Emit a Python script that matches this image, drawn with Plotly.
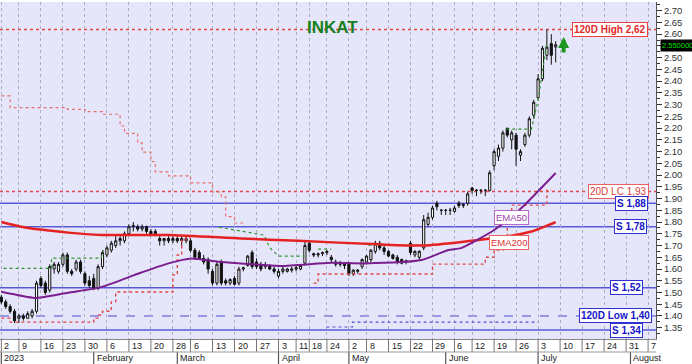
import plotly.graph_objects as go

# ---------------- data ----------------
day_idx = list(range(127))  # trading days 2023-01-02 .. 2023-07-07
opens = [1.48,1.46,1.44,1.42,1.39,1.40,1.39,1.40,1.42,1.56,1.54,1.51,1.60,1.59,1.62,1.66,1.59,1.60,1.63,1.58,
         1.55,1.56,1.52,1.61,1.66,1.68,1.70,1.72,1.72,1.75,1.78,1.78,1.77,1.78,1.76,1.76,1.73,1.72,1.73,1.72,
         1.73,1.72,1.73,1.72,1.68,1.67,1.645,1.64,1.59,1.54,1.63,1.55,1.54,1.56,1.54,1.60,1.615,1.67,1.63,1.62,
         1.61,1.615,1.60,1.57,1.59,1.59,1.595,1.60,1.60,1.625,1.71,1.665,1.66,1.665,1.67,1.65,1.63,1.625,1.62,1.625,
         1.58,1.59,1.61,1.63,1.64,1.675,1.71,1.69,1.675,1.66,1.65,1.64,1.63,1.71,1.66,1.65,1.69,1.79,1.82,1.88,
         1.85,1.85,1.85,1.845,1.88,1.87,1.88,1.945,1.935,1.935,1.935,1.935,2.04,2.08,2.115,2.20,2.15,2.17,2.085,2.13,
         2.17,2.255,2.33,2.41,2.51,2.56,2.545]
highs = [1.49,1.47,1.45,1.43,1.41,1.41,1.42,1.43,1.55,1.57,1.55,1.62,1.63,1.63,1.67,1.67,1.60,1.64,1.64,1.59,
         1.57,1.58,1.62,1.68,1.70,1.72,1.74,1.74,1.76,1.79,1.80,1.79,1.79,1.785,1.77,1.77,1.74,1.73,1.74,1.74,
         1.74,1.74,1.74,1.73,1.69,1.68,1.66,1.65,1.60,1.63,1.64,1.56,1.56,1.57,1.61,1.61,1.66,1.68,1.645,1.63,
         1.63,1.62,1.61,1.60,1.61,1.605,1.61,1.615,1.62,1.72,1.72,1.67,1.67,1.675,1.68,1.66,1.64,1.635,1.63,1.63,
         1.60,1.60,1.645,1.66,1.685,1.72,1.72,1.70,1.68,1.665,1.66,1.645,1.64,1.72,1.68,1.68,1.83,1.84,1.87,1.89,
         1.855,1.855,1.86,1.87,1.89,1.88,1.93,1.95,1.94,1.94,1.94,2.02,2.11,2.13,2.19,2.20,2.19,2.18,2.11,2.18,
         2.25,2.32,2.43,2.55,2.62,2.60,2.57]
lows = [1.45,1.43,1.41,1.37,1.37,1.38,1.39,1.39,1.41,1.52,1.49,1.50,1.58,1.58,1.61,1.58,1.57,1.59,1.58,1.53,
        1.52,1.51,1.51,1.60,1.65,1.67,1.69,1.70,1.71,1.74,1.76,1.76,1.76,1.75,1.74,1.74,1.70,1.70,1.71,1.71,
        1.71,1.70,1.71,1.67,1.64,1.64,1.62,1.58,1.53,1.53,1.53,1.53,1.53,1.53,1.53,1.59,1.61,1.60,1.60,1.59,
        1.60,1.595,1.58,1.56,1.58,1.585,1.585,1.59,1.595,1.62,1.67,1.65,1.65,1.655,1.66,1.63,1.61,1.61,1.60,1.57,
        1.57,1.58,1.60,1.62,1.63,1.665,1.68,1.66,1.65,1.64,1.62,1.62,1.62,1.66,1.65,1.64,1.68,1.78,1.81,1.85,
        1.83,1.83,1.83,1.84,1.86,1.86,1.87,1.92,1.91,1.92,1.91,1.93,2.02,2.06,2.10,2.16,2.11,2.04,2.06,2.12,
        2.16,2.24,2.32,2.40,2.49,2.47,2.48]
closes = [1.46,1.44,1.42,1.38,1.40,1.39,1.41,1.42,1.54,1.53,1.50,1.61,1.62,1.62,1.66,1.59,1.58,1.63,1.59,1.54,
          1.53,1.52,1.61,1.67,1.69,1.71,1.72,1.73,1.75,1.78,1.785,1.77,1.78,1.76,1.75,1.745,1.72,1.73,1.72,1.73,
          1.72,1.73,1.72,1.68,1.65,1.645,1.63,1.60,1.54,1.62,1.54,1.54,1.555,1.535,1.60,1.605,1.655,1.61,1.61,1.60,
          1.615,1.60,1.59,1.59,1.60,1.60,1.60,1.605,1.615,1.70,1.68,1.66,1.665,1.67,1.675,1.64,1.62,1.62,1.615,1.58,
          1.595,1.595,1.64,1.655,1.68,1.71,1.69,1.675,1.655,1.645,1.63,1.625,1.635,1.67,1.675,1.675,1.81,1.82,1.86,1.865,
          1.85,1.85,1.85,1.86,1.87,1.875,1.92,1.935,1.935,1.935,1.935,2.01,2.10,2.115,2.18,2.17,2.18,2.11,2.10,2.17,
          2.24,2.31,2.41,2.54,2.545,2.51,2.555]

week_ticks = [0,4,9,14,19,24,29,34,39,43,48,53,58,63,67,70,74,79,83,88,93,98,103,107,112,117,122,127,132,137,142,147]
week_labels = ["2","9","16","23","30","6","13","20","28","6","13","20","27","3","11","18","24","2","8","15","22",
               "29","6","12","19","26","3","10","17","24","31","7"]
month_ticks = [0,21,40,63,79,101,122,143]
month_labels = ["2023","February","March","April","May","June","July","August"]

price_ticks = [1.35,1.40,1.45,1.50,1.55,1.60,1.65,1.70,1.75,1.80,1.85,1.90,1.95,2.00,2.05,2.10,2.15,2.20,
               2.25,2.30,2.35,2.40,2.45,2.50,2.55,2.60,2.65,2.70]

ema50_x = [0,7.5,9.8,15.2,22.7,30.2,38,43.2,49.3,54.5,63.6,75,82.5,95.5,101.6,104.5,112,118.2,126]
ema50_y = [1.503,1.477,1.481,1.499,1.523,1.574,1.624,1.645,1.631,1.624,1.613,1.627,1.624,1.638,1.681,1.689,1.766,1.86,2.009]
ema200_x = [0,4.5,15.2,22.7,38,54.5,67.5,85.7,96.1,106.8,113.6,120.5,126]
ema200_y = [1.80,1.78,1.755,1.745,1.745,1.73,1.72,1.705,1.70,1.72,1.735,1.76,1.80]

upper_x = [0,2,15,19,23,27,28,31,32,34,35,38,43,48,50,51,53,55]
upper_y = [2.337,2.287,2.28,2.27,2.259,2.209,2.178,2.137,2.098,2.057,2.014,1.997,1.967,1.928,1.907,1.823,1.796,1.796]
lower1_x = [0,2,21,22,23,25,26,39,40,41,42,43]
lower1_y = [1.391,1.374,1.391,1.404,1.42,1.46,1.502,1.575,1.66,1.723,1.732,1.732]
lower2_x = [71,72,98,110,112,114,115,116,124,125]
lower2_y = [1.54,1.579,1.621,1.65,1.681,1.723,1.83,1.872,1.936,1.936]

stop_segments = [
    ([0.5,11.4,11.4,22.7,23.2], [1.603,1.603,1.646,1.646,1.681]),
    ([49.5,54.5,59.8,60.9,63,68.9], [1.778,1.761,1.744,1.693,1.655,1.655]),
    ([72,75], [1.685,1.685]),
    ([83.4,96.1], [1.702,1.702]),
    ([114.8,120.5,122,123.9], [2.196,2.196,2.319,2.554]),
]
blue_dot_x = [73.9,79.1,79.8,122]
blue_dot_y = [1.353,1.353,1.374,1.374]

support_levels = [1.88, 1.78, 1.52, 1.34]
support_right_px = [648, 647, 643, 643]
high120 = 2.62
low120 = 1.40
lc20 = 1.93
last_price = 2.55

# ---------------- figure ----------------
PW = 656.0  # plot width in px
PH = 337.0  # plot height in px
fig = go.Figure()

RED_DOT = "#E04848"
fig.add_trace(go.Scatter(x=upper_x, y=upper_y, mode="lines", line=dict(color="#E87070", width=1.2, dash="dot", shape="hv"), hoverinfo="skip"))
fig.add_trace(go.Scatter(x=lower1_x, y=lower1_y, mode="lines", line=dict(color=RED_DOT, width=1.4, dash="dot", shape="hv"), hoverinfo="skip"))
fig.add_trace(go.Scatter(x=lower2_x, y=lower2_y, mode="lines", line=dict(color=RED_DOT, width=1.4, dash="dot", shape="hv"), hoverinfo="skip"))
for sx, sy in stop_segments:
    fig.add_trace(go.Scatter(x=sx, y=sy, mode="lines", line=dict(color="#2E962E", width=1.2, dash="dot"), hoverinfo="skip"))
fig.add_trace(go.Scatter(x=blue_dot_x, y=blue_dot_y, mode="lines", line=dict(color="#5050D0", width=1.2, dash="dot", shape="hv"), hoverinfo="skip"))

fig.add_trace(go.Candlestick(
    x=day_idx, open=opens, high=highs, low=lows, close=closes,
    increasing=dict(line=dict(color="#111111", width=1), fillcolor="white"),
    decreasing=dict(line=dict(color="#111111", width=1), fillcolor="#111111"),
    whiskerwidth=0, hoverinfo="skip", showlegend=False))

fig.add_trace(go.Scatter(x=ema200_x, y=ema200_y, mode="lines", line=dict(color="#E42222", width=2.5, shape="spline", smoothing=0.6), hoverinfo="skip"))
fig.add_trace(go.Scatter(x=ema50_x, y=ema50_y, mode="lines", line=dict(color="#7A1E8E", width=2, shape="spline", smoothing=0.6), hoverinfo="skip"))

# horizontal levels
for lv in support_levels:
    fig.add_hline(y=lv, line=dict(color="#5A5AD8", width=1.5), layer="below")
fig.add_hline(y=low120, line=dict(color="#4848D0", width=1.2, dash="dash"), layer="below")
fig.add_hline(y=high120, line=dict(color=RED_DOT, width=1.5, dash="dot"), layer="below")
fig.add_hline(y=lc20, line=dict(color=RED_DOT, width=1.5, dash="dot"), layer="below")

LF = "Liberation Sans, Arial, sans-serif"

def level_label(text, y, right_px, color, border):
    fig.add_annotation(x=right_px / PW, xref="paper", xanchor="right", y=y, yref="y",
                       text=text, showarrow=False,
                       font=dict(size=10, color=color, family=LF),
                       bgcolor="white", bordercolor=border, borderwidth=1, borderpad=1)

level_label("<b>120D High " + f"{high120:.2f}".replace(".", ",") + "</b>", high120, 648, "#E02828", "#E84040")
level_label("20D LC " + f"{lc20:.2f}".replace(".", ","), lc20, 649, "#E04040", "#E86060")
for lv, rp in zip(support_levels, support_right_px):
    level_label("<b>S " + f"{lv:.2f}".replace(".", ",") + "</b>", lv, rp, "#1515C8", "#3030D0")
level_label("<b>120D Low " + f"{low120:.2f}".replace(".", ",") + "</b>", low120, 652, "#1515C8", "#3030D0")

# EMA labels
fig.add_annotation(x=116, y=1.819, text="EMA50", showarrow=False, font=dict(size=9.5, color="#9A40A8", family=LF),
                   bgcolor="white", bordercolor="#B868C8", borderwidth=1, borderpad=1)
fig.add_annotation(x=115.3, y=1.715, text="EMA200", showarrow=False, font=dict(size=9.5, color="#E03030", family=LF),
                   bgcolor="white", bordercolor="#E86060", borderwidth=1, borderpad=1)

# title
fig.add_annotation(x=332 / PW, xref="paper", y=(339 - 16) / PH, yref="paper", text="<b>INKAT</b>", showarrow=False,
                   font=dict(size=17, color="#17801A", family=LF))

# green arrow (up)
fig.add_annotation(x=127.8, y=2.588, ax=0, ay=17, text="", showarrow=True, arrowhead=2, arrowsize=0.55,
                   arrowwidth=4, arrowcolor="#1E961E")

# price tag
fig.add_annotation(x=660 / PW, xref="paper", xanchor="left", y=last_price, yref="y", text=f"{last_price:.6f}",
                   showarrow=False, font=dict(size=7.5, color="#00E000", family=LF), bgcolor="black", borderpad=1)

# x-axis label rows (drawn below the plot)
row1 = 13.0 / PH
row2 = 25.0 / PH
for t, lab in zip(week_ticks, week_labels):
    fig.add_shape(type="line", xref="x", yref="paper", x0=t, x1=t, y0=0, y1=-row1,
                  line=dict(color="#777777", width=1))
    fig.add_annotation(x=t, y=-row1 / 2, yref="paper", xanchor="left", yanchor="middle", xshift=1,
                       text=lab, showarrow=False, font=dict(size=9, color="#222222", family=LF))
for t, lab in zip(month_ticks, month_labels):
    fig.add_shape(type="line", xref="x", yref="paper", x0=t, x1=t, y0=-row1, y1=-row2,
                  line=dict(color="#555555", width=1.2))
    fig.add_annotation(x=t, y=-(row1 + row2) / 2, yref="paper", xanchor="left", yanchor="middle", xshift=1,
                       text=lab, showarrow=False, font=dict(size=9, color="#222222", family=LF))
fig.add_shape(type="line", xref="paper", yref="paper", x0=0, x1=1, y0=-row1, y1=-row1,
              line=dict(color="#999999", width=1))

# price axis labels: the live price tag covers the label at the last price
tick_text = ["" if abs(v - last_price) < 1e-9 else f"{v:.2f}" for v in price_ticks]

fig.update_layout(
    width=692, height=364, margin=dict(l=0, r=36, t=2, b=25),
    paper_bgcolor="white", plot_bgcolor="#E6E6FA", showlegend=False,
    xaxis=dict(range=[-0.3, 148.8], rangeslider=dict(visible=False), tickvals=week_ticks,
               showticklabels=False, ticks="", showgrid=True, gridcolor="#AEAEC4", griddash="dot",
               gridwidth=1, zeroline=False, showline=True, linecolor="#888888", linewidth=1, fixedrange=True),
    yaxis=dict(range=[1.302, 2.737], side="right", tickvals=price_ticks, ticktext=tick_text,
               showgrid=False, zeroline=False, ticks="outside", ticklen=5, tickcolor="#333333",
               showline=True, linecolor="#555555", linewidth=1,
               minor=dict(dtick=0.025, ticks="outside", ticklen=3, tickcolor="#333333"),
               tickfont=dict(size=9.5, color="#333333", family=LF), fixedrange=True),
)

fig.write_html("out.html")
